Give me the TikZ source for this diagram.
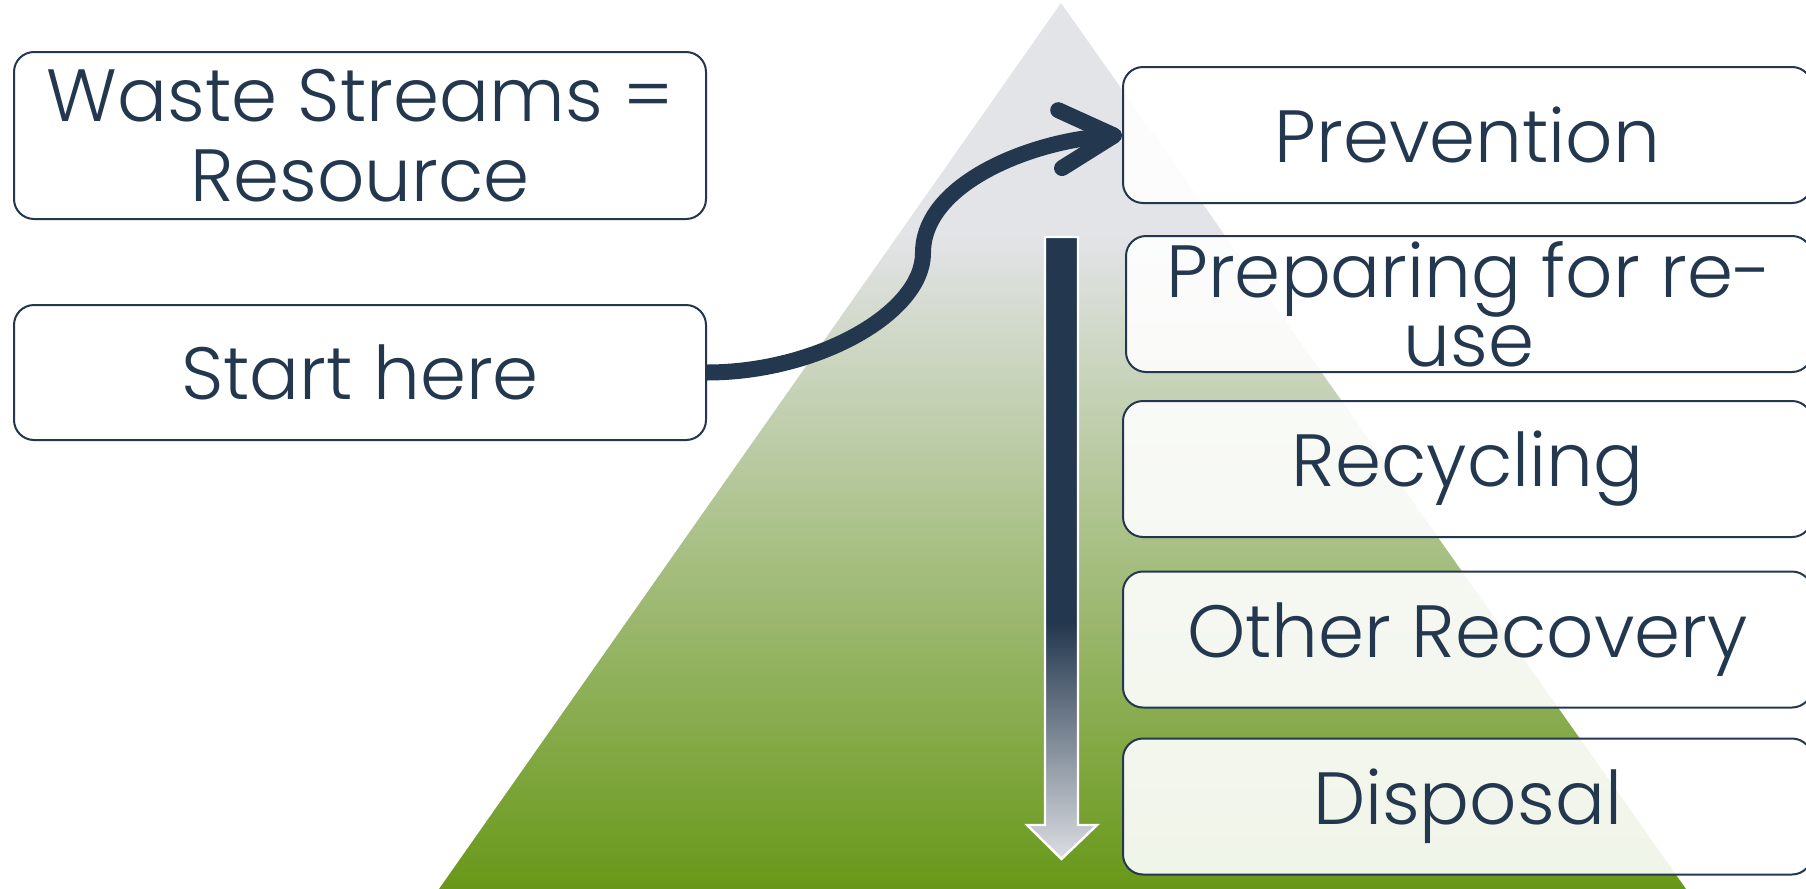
\documentclass[tikz,border=0pt]{standalone}
\usepackage{fontspec}
\setmainfont{Poppins}[UprightFont=* Light]
\usetikzlibrary{arrows.meta}
\definecolor{navy}{RGB}{35,55,78}
\definecolor{pyrgrey}{RGB}{227,228,232}
\definecolor{pyrgreen}{RGB}{104,152,24}
\definecolor{tipgrey}{RGB}{220,222,226}
% shadings: colour stops bottom to top, 25bp..75bp fill the path
\pgfdeclareverticalshading{pyramid}{100bp}{color(0bp)=(pyrgreen); color(25bp)=(pyrgreen); color(62bp)=(pyrgrey); color(100bp)=(pyrgrey)}
\pgfdeclareverticalshading{sinking}{100bp}{color(0bp)=(tipgrey); color(25bp)=(tipgrey); color(44bp)=(navy); color(100bp)=(navy)}
\tikzset{
	box/.style={draw=navy, line width=1pt, rounded corners=10pt, fill=white, text=navy,
		font=\fontsize{37}{40}\selectfont, align=center, minimum width=346pt, inner sep=0pt},
	level/.style={box, fill opacity=0.9, text opacity=1, minimum width=344.5pt, minimum height=68pt}
}
\begin{document}
\begin{tikzpicture}[x=0.5pt,y=-0.5pt]
	\useasboundingbox (0,0) rectangle (1806,889);
	% hierarchy triangle and downward arrow
	\shade[shading=pyramid] (1061,3) coordinate (apex) -- (1686,889) coordinate (r) -- (439,889) coordinate (l) -- cycle;
	\shadedraw[shading=sinking, draw=white, line width=1.2pt] (1045,237) -- (1078,237) -- (1078,825) -- (1097,825) -- (1061.5,859) -- (1027,825) -- (1045,825) -- cycle;
	% left boxes
	\node[box, minimum height=83.5pt] (waste) at (360,135.5) {Waste Streams =\\Resource};
	\node[box, minimum height=67.5pt] (start) at (360,372.5) {Start here};
	% levels
	\node[level] (prev) at (1467.5,135) {Prevention};
	\node[level, font=\fontsize{37}{34.5}\selectfont, minimum width=343pt] (prep) at (1469,304) {Preparing for re-\\use};
	\node[level] (recy) at (1467.5,469) {Recycling};
	\node[level] (other) at (1467.5,639.5) {Other Recovery};
	\node[level] (disp) at (1467.5,806.5) {Disposal};
	% curved arrow
	\coordinate (bend) at (923,253);
	\draw[navy, line width=8pt, -{Straight Barb[length=27pt,width=29pt,round]}] (start.east) .. controls +(110,0) and +(0,60) .. (bend) .. controls +(0,-70) and +(-90,6) .. (prev.west);
\end{tikzpicture}
\end{document}
